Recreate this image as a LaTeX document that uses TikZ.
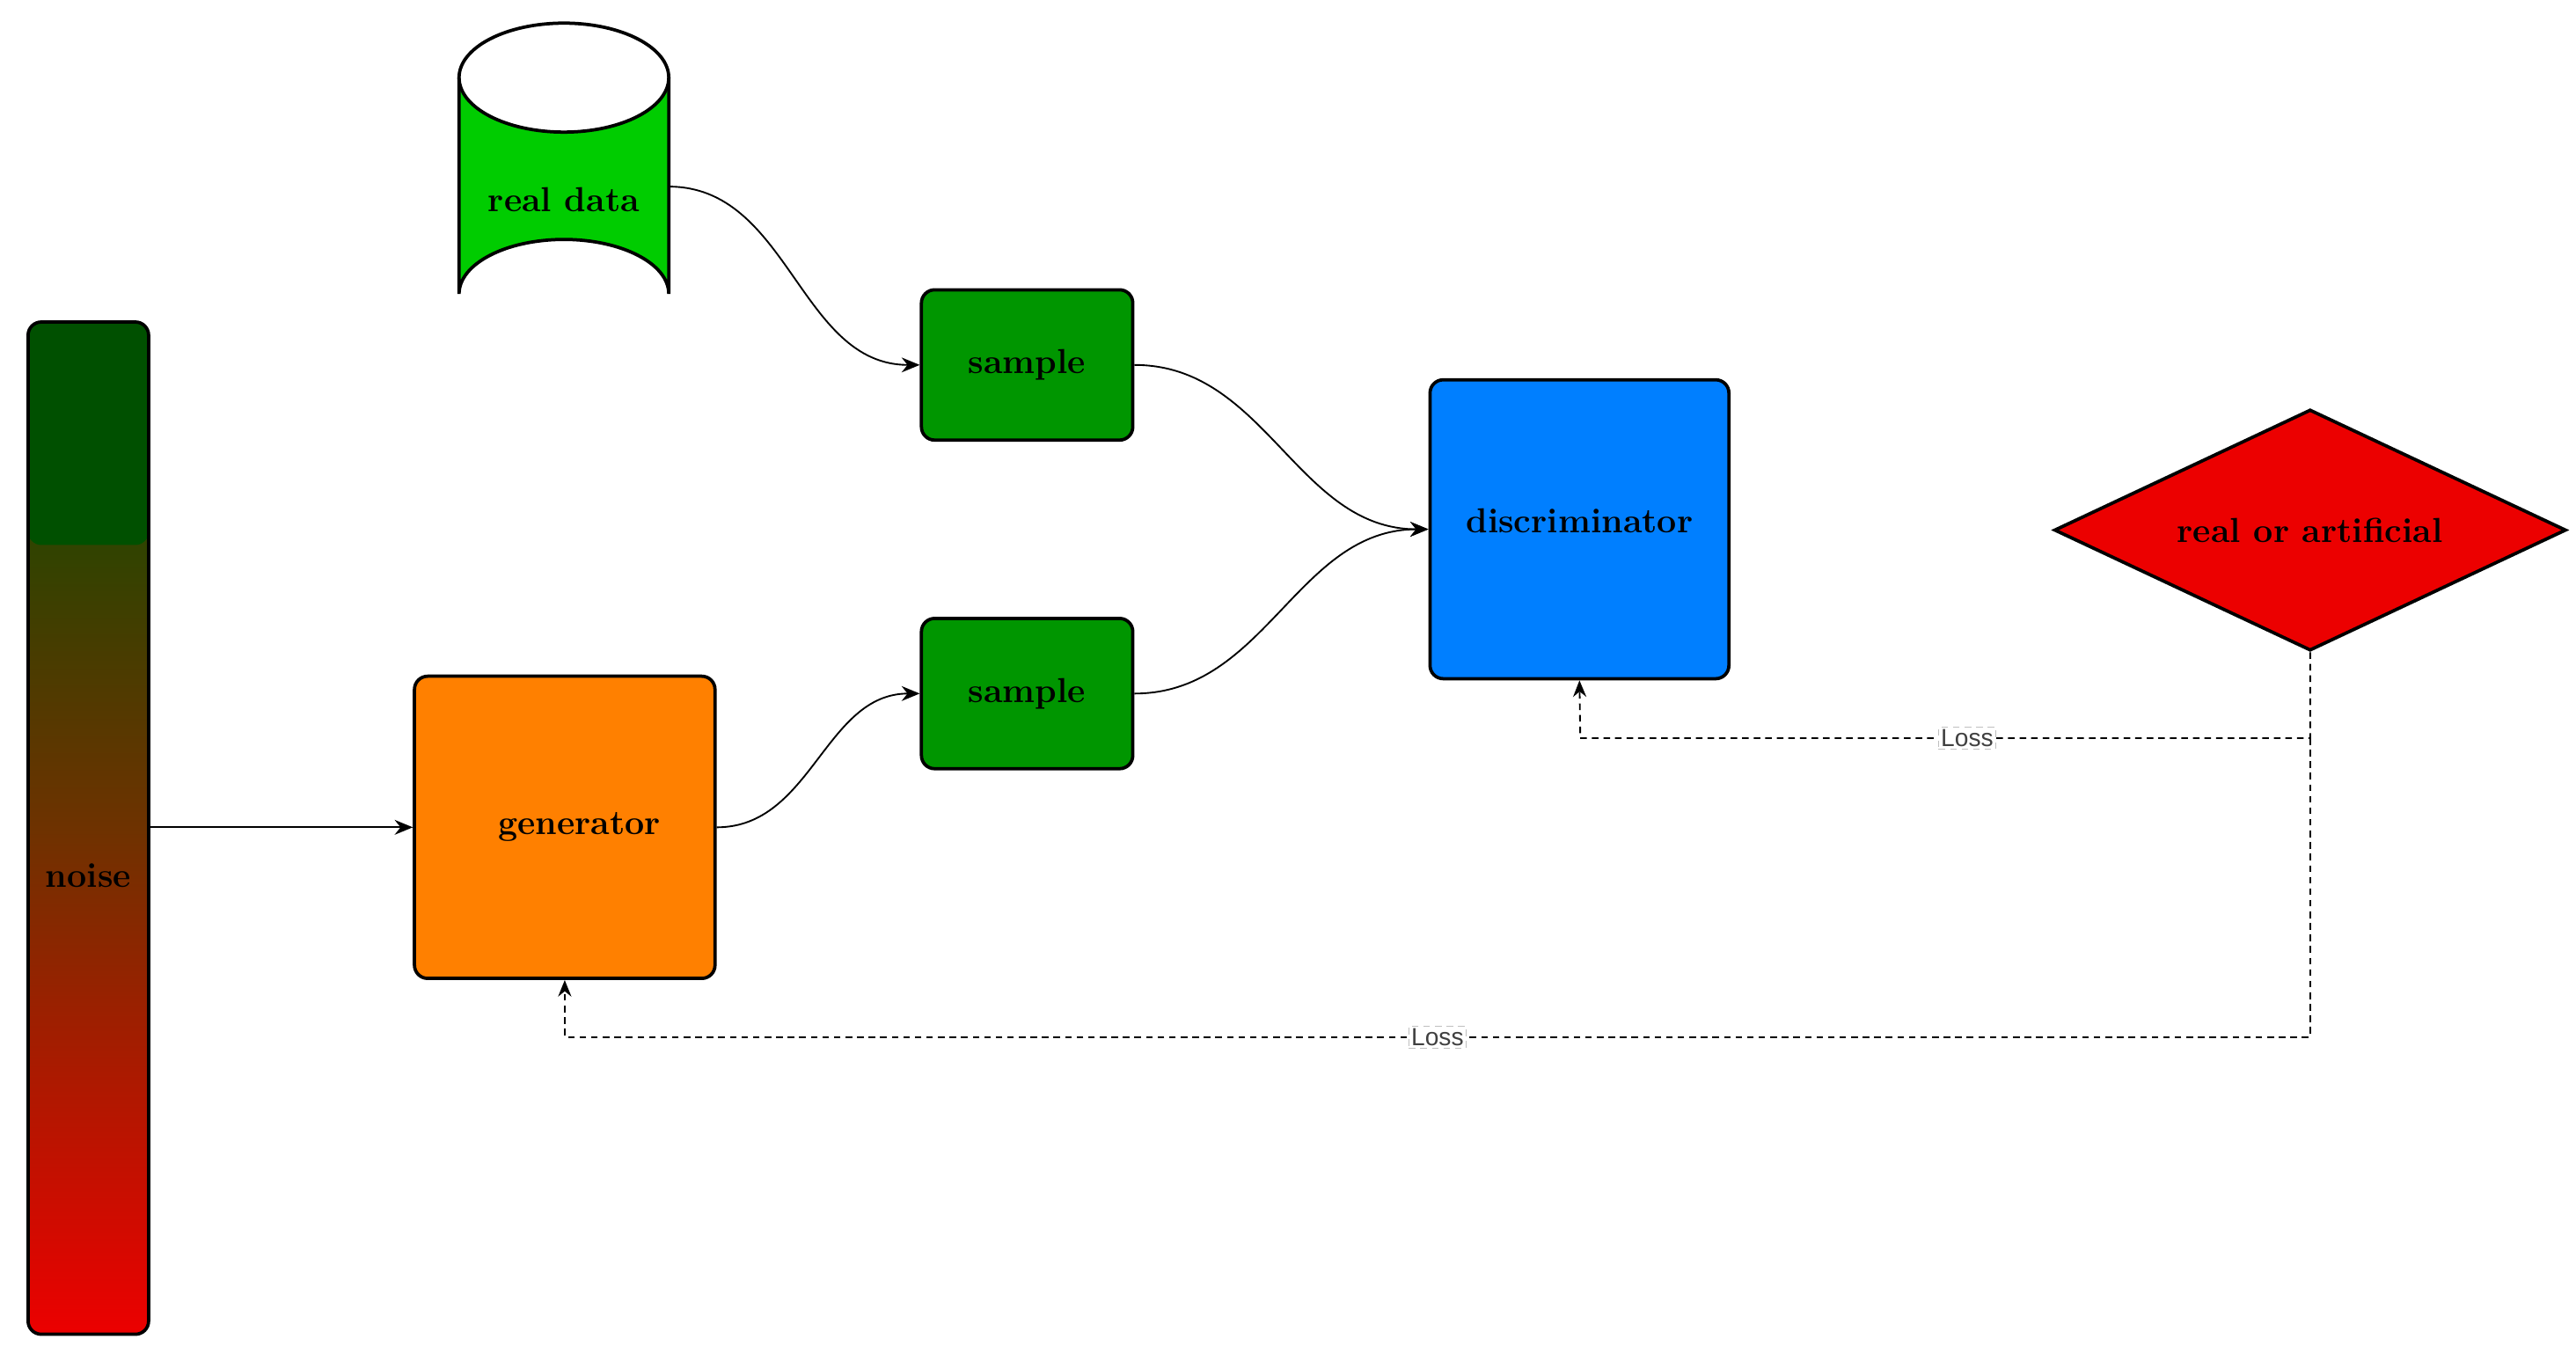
\documentclass[tikz,border=0pt]{standalone}
\usepackage{fontspec}
\newfontfamily\lossfont{Liberation Sans}
\usetikzlibrary{shapes.geometric,arrows.meta}
\definecolor{rdgreen}{RGB}{0,204,0}
\definecolor{smpgreen}{RGB}{0,150,0}
\definecolor{genorange}{RGB}{255,128,0}
\definecolor{discblue}{RGB}{0,127,255}
\definecolor{outred}{RGB}{236,0,0}
\definecolor{ndark}{RGB}{0,80,0}
\definecolor{nmid}{RGB}{110,50,0}
\tikzset{
  box/.style={draw=black,line width=2pt,rounded corners=8pt,font=\fontsize{21}{24}\selectfont\bfseries},
  conn/.style={line width=1pt,-{Stealth[length=11pt,width=9pt]}},
  loss/.style={line width=1pt,dashed,dash pattern=on 4pt off 3pt},
  losslbl/.style={fill=white,draw=gray!50,line width=0.5pt,inner sep=1.5pt,font=\lossfont\fontsize{15}{17}\selectfont,text=black!75}
}
\begin{document}
\begin{tikzpicture}[x=1pt,y=-1pt]
\useasboundingbox (0,0) rectangle (1560,819.5);
% noise bar
\shade[top color=ndark,bottom color=outred,middle color=nmid,rounded corners=8pt] (17,195) rectangle (90,808);
\shade[top color=ndark,bottom color=ndark,rounded corners=8pt] (17,195) rectangle (90,330);
\draw[line width=2pt,rounded corners=8pt] (17,195) rectangle (90,808);
\node[font=\fontsize{21}{24}\selectfont\bfseries] (noise) at (53.5,530) {noise};
\coordinate (noiseR) at (90,501);
% cylinder
\fill[rdgreen] (278,47) -- (278,178) arc[start angle=180,end angle=360,x radius=63.5,y radius=33] -- (405,47) arc[start angle=0,end angle=180,x radius=63.5,y radius=33] -- cycle;
\draw[line width=2pt] (278,47) -- (278,178) arc[start angle=180,end angle=360,x radius=63.5,y radius=33] -- (405,47);
\draw[line width=2pt] (341.5,47) ellipse[x radius=63.5,y radius=33];
\node[font=\fontsize{21}{24}\selectfont\bfseries] (real) at (341.5,121) {real data};
\coordinate (realR) at (405,113);
% boxes
\node[box,fill=smpgreen,minimum width=128pt,minimum height=91pt] (s1) at (622,221) {sample};
\node[box,fill=smpgreen,minimum width=128pt,minimum height=91pt] (s2) at (622,420) {sample};
\node[box,fill=genorange,minimum width=182pt,minimum height=183pt] (gen) at (342,501) {\hspace*{18pt}generator};
\node[box,fill=discblue,minimum width=181pt,minimum height=181pt] (disc) at (956.5,320.5) {\raisebox{10pt}{discriminator}};
\node[diamond,draw=black,line width=2pt,fill=outred,minimum width=310pt,minimum height=146pt,inner sep=0pt,aspect=2.1,font=\fontsize{21}{24}\selectfont\bfseries] (out) at (1399,321) {real or artificial};
% connectors
\draw[conn] (realR) to[out=0,in=180] (s1.west);
\draw[conn] (s1.east) to[out=0,in=180] (disc.west);
\draw[conn] (s2.east) to[out=0,in=180] (disc.west);
\draw[conn] (gen.east) to[out=0,in=180] (s2.west);
\draw[conn] (noiseR) -- (gen.west);
% loss
\coordinate (j1) at (1399,447);
\draw[loss,-{Stealth[length=10pt,width=8pt]}] (out.south) -- (j1) -- node[losslbl,pos=0.47]{Loss} (957,447) -- (disc.south);
\draw[loss,-{Stealth[length=10pt,width=8pt]}] (j1) -- (1399,628) -- node[losslbl,pos=0.5]{Loss} (342,628) -- (gen.south);
\end{tikzpicture}
\end{document}
